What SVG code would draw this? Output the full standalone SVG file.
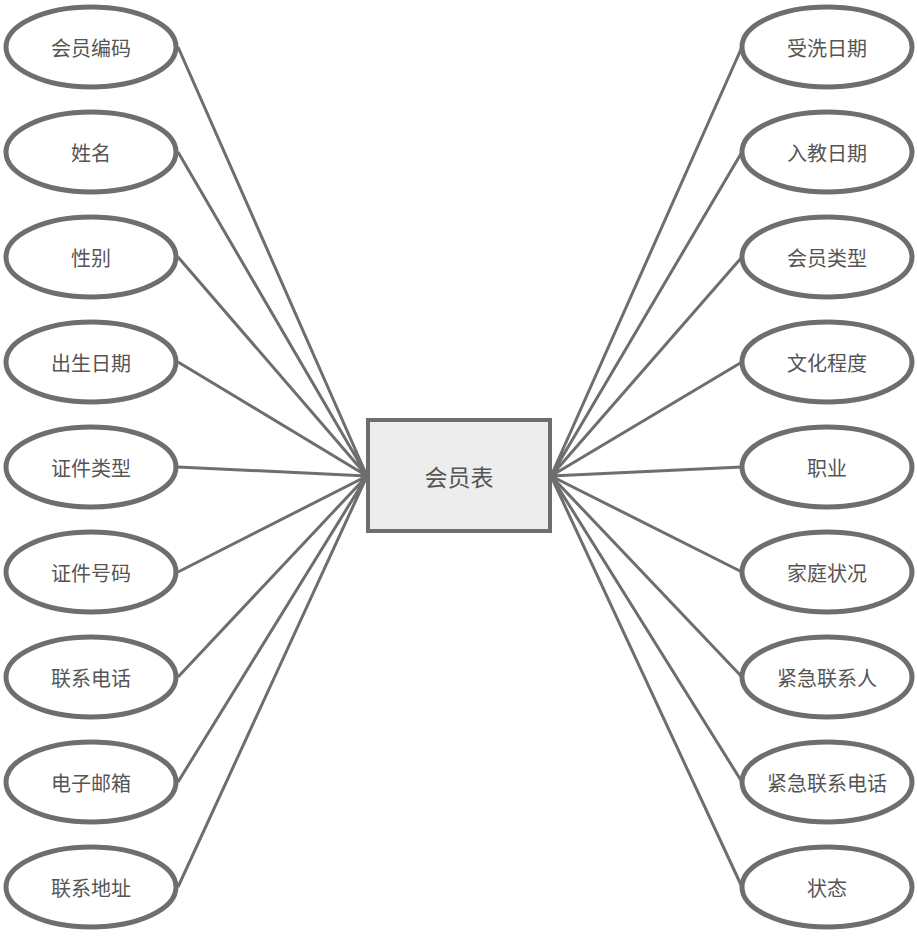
<svg xmlns="http://www.w3.org/2000/svg" width="917" height="951" viewBox="0 0 917 951">
<style>
.e{fill:#fff;stroke:#6e6e6e;stroke-width:5}
.t{font-family:"Noto Sans CJK SC","Noto Sans",sans-serif;font-size:20px;fill:#555;text-anchor:middle;dominant-baseline:central}
.c{stroke:#6e6e6e;stroke-width:3;fill:none}
</style>
<rect width="917" height="951" fill="#fff"/>
<g id="connectors">
<path class="c" d="M178 47L367 476M178 152L367 476M178 257L367 476M178 362L367 476M178 467L367 476M178 572L367 476M178 677L367 476M178 782L367 476M178 887L367 476"/>
<path class="c" d="M742 47L551 476M742 152L551 476M742 257L551 476M742 362L551 476M742 467L551 476M742 572L551 476M742 677L551 476M742 782L551 476M742 887L551 476"/>
</g>
<g id="center"><rect x="368" y="420" width="182" height="111" fill="#ededed" stroke="#6e6e6e" stroke-width="4"/><text class="t" x="459" y="476" style="font-size:23px">会员表</text></g>
<g id="l1"><ellipse class="e" cx="91" cy="47" rx="85" ry="40"/><text class="t" x="91" y="47">会员编码</text></g>
<g id="l2"><ellipse class="e" cx="91" cy="152" rx="85" ry="40"/><text class="t" x="91" y="152">姓名</text></g>
<g id="l3"><ellipse class="e" cx="91" cy="257" rx="85" ry="40"/><text class="t" x="91" y="257">性别</text></g>
<g id="l4"><ellipse class="e" cx="91" cy="362" rx="85" ry="40"/><text class="t" x="91" y="362">出生日期</text></g>
<g id="l5"><ellipse class="e" cx="91" cy="467" rx="85" ry="40"/><text class="t" x="91" y="467">证件类型</text></g>
<g id="l6"><ellipse class="e" cx="91" cy="572" rx="85" ry="40"/><text class="t" x="91" y="572">证件号码</text></g>
<g id="l7"><ellipse class="e" cx="91" cy="677" rx="85" ry="40"/><text class="t" x="91" y="677">联系电话</text></g>
<g id="l8"><ellipse class="e" cx="91" cy="782" rx="85" ry="40"/><text class="t" x="91" y="782">电子邮箱</text></g>
<g id="l9"><ellipse class="e" cx="91" cy="887" rx="85" ry="40"/><text class="t" x="91" y="887">联系地址</text></g>
<g id="r1"><ellipse class="e" cx="827" cy="47" rx="85" ry="40"/><text class="t" x="827" y="47">受洗日期</text></g>
<g id="r2"><ellipse class="e" cx="827" cy="152" rx="85" ry="40"/><text class="t" x="827" y="152">入教日期</text></g>
<g id="r3"><ellipse class="e" cx="827" cy="257" rx="85" ry="40"/><text class="t" x="827" y="257">会员类型</text></g>
<g id="r4"><ellipse class="e" cx="827" cy="362" rx="85" ry="40"/><text class="t" x="827" y="362">文化程度</text></g>
<g id="r5"><ellipse class="e" cx="827" cy="467" rx="85" ry="40"/><text class="t" x="827" y="467">职业</text></g>
<g id="r6"><ellipse class="e" cx="827" cy="572" rx="85" ry="40"/><text class="t" x="827" y="572">家庭状况</text></g>
<g id="r7"><ellipse class="e" cx="827" cy="677" rx="85" ry="40"/><text class="t" x="827" y="677">紧急联系人</text></g>
<g id="r8"><ellipse class="e" cx="827" cy="782" rx="85" ry="40"/><text class="t" x="827" y="782">紧急联系电话</text></g>
<g id="r9"><ellipse class="e" cx="827" cy="887" rx="85" ry="40"/><text class="t" x="827" y="887">状态</text></g>
</svg>
